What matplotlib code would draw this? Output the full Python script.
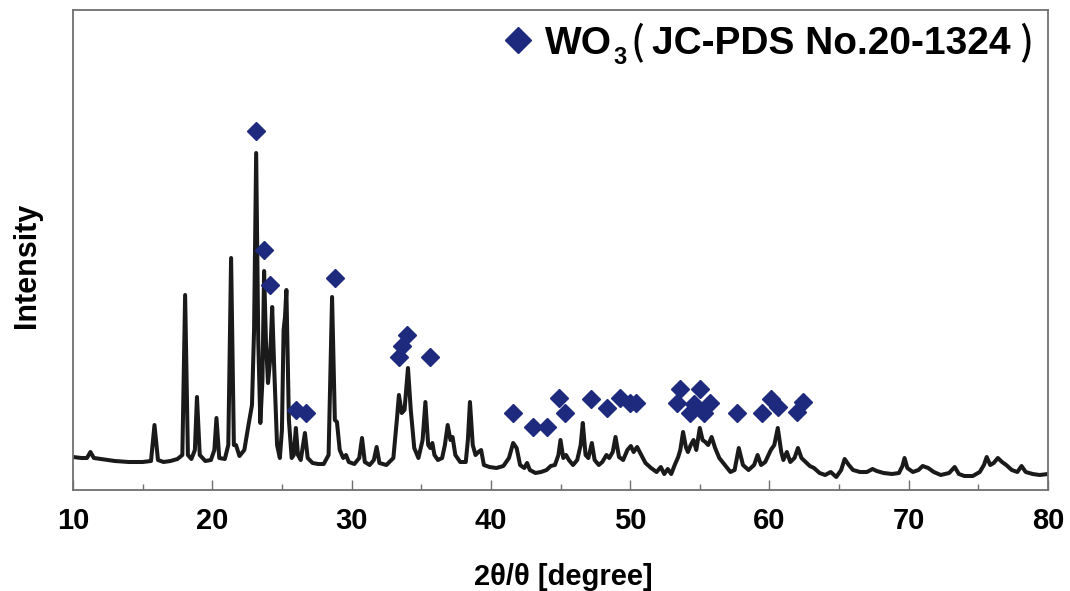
import matplotlib
matplotlib.use("Agg")
import matplotlib.pyplot as plt
from matplotlib.ticker import MultipleLocator

# XRD trace (2theta in degree, intensity in a.u.)
two_theta = [10.0, 10.6, 11.0, 11.25, 11.5, 12.0, 13.0, 14.0, 15.0, 15.6, 15.85, 16.1,
             16.5, 17.0, 17.5, 17.85, 18.05, 18.25, 18.5, 18.75, 18.9, 19.1, 19.5, 19.9,
             20.15, 20.3, 20.5, 20.9, 21.15, 21.35, 21.55, 21.7, 21.95, 22.3, 22.6, 22.85,
             23.0, 23.15, 23.3, 23.45, 23.6, 23.72, 23.85, 24.0, 24.15, 24.3, 24.45, 24.65,
             24.85, 25.0, 25.12, 25.22, 25.32, 25.5, 25.7, 25.85, 26.0, 26.15, 26.35, 26.65,
             26.85, 27.2, 27.6, 28.0, 28.35, 28.6, 28.8, 28.95, 29.15, 29.4, 29.6, 29.8,
             30.2, 30.55, 30.75, 30.95, 31.3, 31.6, 31.8, 32.0, 32.5, 33.0, 33.25, 33.4,
             33.6, 33.8, 34.05, 34.25, 34.5, 34.8, 35.1, 35.3, 35.5, 35.65, 35.8, 35.95,
             36.2, 36.5, 36.7, 36.9, 37.1, 37.25, 37.45, 37.8, 38.2, 38.35, 38.5, 38.7,
             38.9, 39.1, 39.3, 39.5, 39.9, 40.4, 40.9, 41.3, 41.6, 41.85, 42.1, 42.4,
             42.6, 42.8, 43.2, 43.6, 44.0, 44.3, 44.6, 44.85, 45.0, 45.2, 45.4, 45.6,
             45.9, 46.2, 46.45, 46.6, 46.8, 47.0, 47.25, 47.45, 47.75, 48.0, 48.3, 48.5,
             48.75, 48.95, 49.2, 49.5, 49.8, 50.05, 50.25, 50.5, 50.8, 51.1, 51.5, 51.9,
             52.2, 52.45, 52.7, 52.95, 53.2, 53.45, 53.6, 53.8, 54.0, 54.15, 54.35, 54.55,
             54.75, 55.0, 55.2, 55.4, 55.6, 55.85, 56.1, 56.4, 56.8, 57.2, 57.5, 57.8,
             58.1, 58.5, 58.9, 59.15, 59.4, 59.7, 60.1, 60.35, 60.6, 60.85, 61.0, 61.25,
             61.5, 61.8, 62.05, 62.3, 62.6, 62.9, 63.2, 63.6, 64.0, 64.4, 64.8, 65.15,
             65.4, 65.7, 66.0, 66.5, 67.0, 67.4, 67.7, 68.2, 68.8, 69.3, 69.55, 69.7,
             69.9, 70.3, 70.7, 71.0, 71.4, 71.8, 72.3, 72.9, 73.3, 73.6, 74.0, 74.6,
             75.1, 75.4, 75.6, 75.85, 76.1, 76.4, 76.7, 77.0, 77.4, 77.8, 78.1, 78.4,
             78.9, 79.4, 80.0]
intensity = [33, 32, 32, 38, 32, 31, 29, 28, 28, 29, 65, 30,
             28, 29, 31, 35, 195, 35, 31, 40, 93, 35, 29, 30,
             40, 72, 32, 31, 45, 232, 45, 45, 34, 40, 65, 85,
             160, 337, 150, 67, 110, 219, 150, 107, 130, 183, 120, 45,
             32, 60, 160, 173, 200, 70, 32, 35, 62, 35, 30, 57,
             32, 27, 26, 26, 35, 193, 70, 68, 40, 32, 35, 28,
             26, 32, 52, 28, 25, 30, 43, 27, 25, 32, 70, 95,
             77, 80, 122, 80, 42, 32, 50, 88, 45, 42, 47, 35,
             30, 32, 45, 65, 50, 53, 35, 28, 28, 50, 88, 45,
             35, 38, 40, 25, 23, 22, 24, 32, 47, 42, 25, 22,
             27, 20, 17, 18, 20, 24, 25, 35, 50, 32, 35, 30,
             25, 30, 45, 67, 35, 32, 47, 30, 25, 28, 35, 32,
             38, 53, 33, 30, 40, 44, 38, 43, 35, 27, 22, 18,
             23, 16, 21, 16, 25, 33, 40, 58, 43, 38, 45, 50,
             40, 62, 50, 48, 45, 53, 42, 32, 25, 18, 20, 42,
             25, 20, 25, 35, 25, 28, 40, 45, 62, 38, 30, 38,
             28, 32, 42, 32, 28, 24, 22, 17, 15, 18, 13, 20,
             31, 25, 20, 18, 18, 21, 19, 17, 16, 17, 24, 32,
             22, 18, 20, 24, 22, 18, 15, 17, 23, 16, 14, 14,
             18, 25, 33, 25, 27, 32, 28, 25, 20, 18, 24, 18,
             16, 15, 16]

# WO3 reference peaks (JC-PDS No.20-1324), marker positions
ref_theta = [23.15, 23.7, 24.15, 26.0, 26.7, 28.8, 33.4, 33.65, 34.0, 35.6,
             41.6, 43.0, 44.0, 44.9, 45.35, 47.2, 48.35, 49.3, 50.0, 50.45,
             53.35, 53.6, 54.3, 54.6, 55.0, 55.3, 55.7, 57.7, 59.5, 60.1,
             60.65, 62.0, 62.4]
ref_level = [359, 240, 205, 80, 77, 212, 133, 144, 155, 133,
             77, 63, 63, 92, 77, 91, 82, 92, 87, 87,
             87, 101, 77, 86, 101, 77, 87, 77, 77, 91,
             83, 78, 88]

navy = "#1e2a7e"
gray = "#707070"
fnt = ["Liberation Sans", "DejaVu Sans", "Noto Sans CJK JP"]
plt.rcParams["font.family"] = fnt
plt.rcParams["font.weight"] = "bold"

fig = plt.figure(figsize=(10.70, 5.91), dpi=100)
ax = fig.add_axes([73 / 1070, 1 - 490 / 591, 975 / 1070, 480 / 591])

ax.plot(two_theta, intensity, color="#1a1a1a", lw=2.9, solid_joinstyle="round")
ax.plot(ref_theta, ref_level, ls="none", marker="D", ms=9, color=navy, mec=navy)

ax.set_xlim(10, 80)
ax.set_ylim(0, 480)
ax.set_yticks([])
ax.xaxis.set_major_locator(MultipleLocator(10))
ax.xaxis.set_minor_locator(MultipleLocator(5))
ax.tick_params(axis="x", which="major", direction="in", length=7, width=1,
               color=gray, labelsize=21, pad=12)
ax.tick_params(axis="x", which="minor", direction="in", length=4.5, width=1, color=gray)
for lab in ax.get_xticklabels():
    lab.set_fontweight("bold")
for sp in ax.spines.values():
    sp.set_color(gray)
    sp.set_linewidth(1.3)

fig.text(563 / 1070, 1 - 577 / 591, "2θ/θ [degree]", ha="center", va="center",
         fontsize=21, fontweight="bold")
fig.text(27 / 1070, 1 - 265 / 591, "Intensity", rotation=90, ha="center",
         va="center", fontsize=22, fontweight="bold")

# legend entry drawn by hand: WO3 with subscript, then thin brackets
ax.plot([518 / 1070], [1 - 40 / 591], transform=fig.transFigure, marker="D",
        ms=13, color=navy, ls="none", clip_on=False)
base_y = 1 - 54 / 591
r = fig.canvas.get_renderer()
W = fig.bbox.width


def put(x, txt, dy=0, size=28, weight="bold", family=fnt, gap=0):
    t = fig.text(x, base_y - dy / 591, txt, fontsize=size, fontweight=weight,
                 va="baseline", ha="left", family=family)
    return t.get_window_extent(r).x1 / W + gap / 1070


x = put(545 / 1070, "WO", gap=1)
x = put(x, "3", dy=10, size=17, gap=4)
x = put(x, "(", weight="medium", family=["Noto Sans CJK JP"], gap=8)
x = put(x, "JC-PDS No.20-1324", gap=8)
put(x, ")", weight="medium", family=["Noto Sans CJK JP"])

fig.savefig("out.png", dpi=100)
